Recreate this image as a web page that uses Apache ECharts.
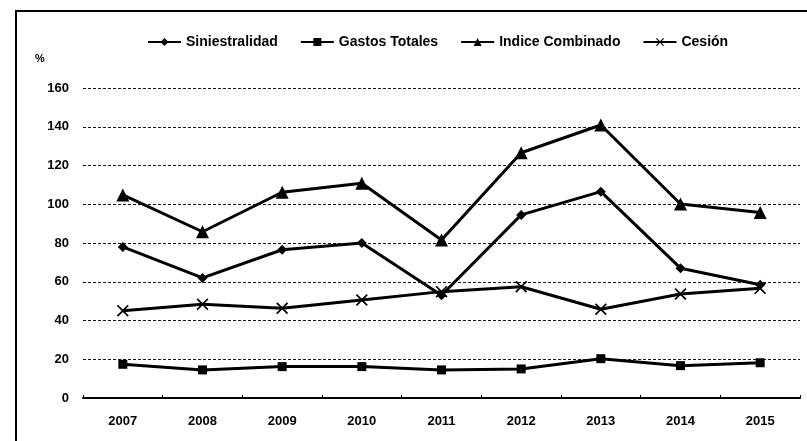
<!DOCTYPE html>
<html>
<head>
<meta charset="utf-8">
<script src="https://cdn.jsdelivr.net/npm/echarts@6/dist/echarts.min.js"></script>
<style>
html,body{margin:0;padding:0;background:#fff;}
#c{width:807px;height:441px;}
</style>
</head>
<body>
<div id="c"></div>
<script>
const years = ['2007','2008','2009','2010','2011','2012','2013','2014','2015'];
const siniestralidad = [78, 62, 76.5, 80, 53, 94.5, 106.5, 67, 58.5];
const gastosTotales = [17.4, 14.5, 16.2, 16.2, 14.5, 15, 20.3, 16.7, 18.2];
const indiceCombinado = [104.8, 85.8, 106.2, 110.8, 81.5, 126.6, 140.9, 100.1, 95.8];
const cesion = [45, 48.4, 46.3, 50.6, 54.9, 57.4, 45.8, 53.7, 56.6];
const yTicks = {min: 0, max: 160, interval: 20};

const FONT = 'Liberation Sans, Arial, sans-serif';
const xSym = 'path://M0,1L1,0L5,4L9,0L10,1L6,5L10,9L9,10L5,6L1,10L0,9L4,5Z';

function mk(name, data, symbol, size) {
  return {
    name: name, type: 'line', data: data,
    symbol: symbol, symbolSize: size,
    showAllSymbol: true,
    lineStyle: {color: '#000', width: 3},
    itemStyle: {color: '#000', borderColor: '#000', borderWidth: 0},
    emphasis: {disabled: true},
    animation: false
  };
}

const chart = echarts.init(document.getElementById('c'));
chart.setOption({
  animation: false,
  backgroundColor: '#fff',
  grid: {left: 83, right: 7, top: 88, bottom: 43},
  graphic: [
    {type: 'rect', shape: {x: 16, y: 11, width: 820, height: 460},
     style: {fill: 'none', stroke: '#000', lineWidth: 2}, silent: true},
    {type: 'text', left: 35, top: 53,
     style: {text: '%', font: 'bold 11px ' + FONT, fill: '#000'}, silent: true}
  ],
  legend: {
    left: 142, top: 30,
    itemWidth: 33, itemHeight: 10, itemGap: 22,
    textStyle: {fontFamily: FONT, fontWeight: 'bold', fontSize: 14, color: '#000'},
    data: ['Siniestralidad', 'Gastos Totales', 'Indice Combinado', 'Cesión']
  },
  xAxis: {
    type: 'category', data: years, boundaryGap: true,
    axisLine: {show: true, lineStyle: {color: '#000', width: 2}},
    axisTick: {show: true, inside: true, length: 3, lineStyle: {color: '#000'}},
    axisLabel: {fontFamily: FONT, fontWeight: 'bold', fontSize: 13, color: '#000', margin: 17},
    splitLine: {show: false}
  },
  yAxis: {
    type: 'value', min: yTicks.min, max: yTicks.max, interval: yTicks.interval,
    axisLine: {show: false}, axisTick: {show: false},
    axisLabel: {fontFamily: FONT, fontWeight: 'bold', fontSize: 13, color: '#000', margin: 14},
    splitLine: {show: true, lineStyle: {color: '#111', width: 1.2, type: [3, 2]}}
  },
  series: [
    mk('Siniestralidad', siniestralidad, 'diamond', 10),
    mk('Gastos Totales', gastosTotales, 'rect', 9),
    mk('Indice Combinado', indiceCombinado, 'triangle', 13),
    mk('Cesión', cesion, xSym, 12)
  ]
});
</script>
</body>
</html>
